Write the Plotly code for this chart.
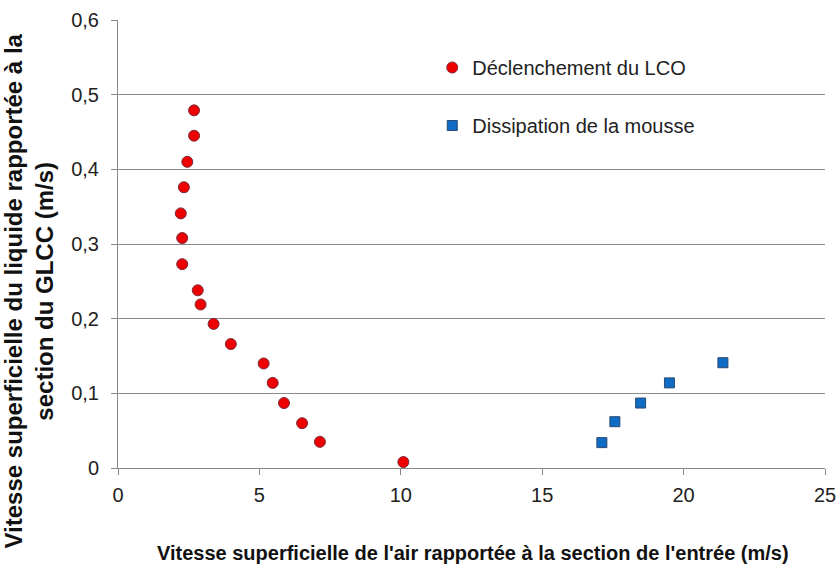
import plotly.graph_objects as go

# Déclenchement du LCO (onset of liquid carry-over)
lco_x = [2.69, 2.69, 2.45, 2.33, 2.22, 2.27, 2.27, 2.82, 2.92, 3.38, 3.99, 5.15, 5.47, 5.87, 6.51, 7.14, 10.09]
lco_y = [0.479, 0.445, 0.410, 0.376, 0.341, 0.308, 0.273, 0.238, 0.219, 0.193, 0.166, 0.140, 0.114, 0.087, 0.060, 0.035, 0.008]

# Dissipation de la mousse (foam dissipation)
foam_x = [17.11, 17.57, 18.48, 19.50, 21.39]
foam_y = [0.034, 0.062, 0.087, 0.114, 0.141]

x_ticks = [0, 5, 10, 15, 20, 25]
y_ticks = [0, 0.1, 0.2, 0.3, 0.4, 0.5, 0.6]
y_ticktext = ["0", "0,1", "0,2", "0,3", "0,4", "0,5", "0,6"]

series_names = ["Déclenchement du LCO", "Dissipation de la mousse"]
x_title = "Vitesse superficielle de l'air rapportée à la section de l'entrée (m/s)"
y_title = "Vitesse superficielle du liquide rapportée à la<br>section du GLCC (m/s)"

label_font = "Liberation Sans, Arial, sans-serif"

fig = go.Figure()
fig.add_trace(go.Scatter(
    x=lco_x, y=lco_y, mode="markers", name=series_names[0], legendgroup="a",
    marker=dict(symbol="circle", size=11, color="#ee0000",
                line=dict(color="#7a2a3a", width=1)),
))
fig.add_trace(go.Scatter(
    x=foam_x, y=foam_y, mode="markers", name=series_names[1], legendgroup="b",
    marker=dict(symbol="square", size=10, color="#0f6cc4",
                line=dict(color="#2b4a72", width=1)),
))

fig.update_layout(
    width=839, height=576,
    margin=dict(l=118, r=14, t=20, b=108, autoexpand=False),
    paper_bgcolor="white", plot_bgcolor="white",
    font=dict(family=label_font, size=17, color="#222222"),
    showlegend=True,
    legend=dict(
        x=0.4445, y=0.9375, xanchor="left", yanchor="top",
        bgcolor="rgba(0,0,0,0)", tracegroupgap=29,
        font=dict(family=label_font, size=20, color="#222222"),
        itemsizing="trace",
    ),
    xaxis=dict(
        range=[0, 25], tickvals=x_ticks, ticktext=[str(v) for v in x_ticks],
        automargin=False, ticklabeloverflow="allow",
        showgrid=False, zeroline=False,
        showline=True, linecolor="#888888", linewidth=1,
        ticks="outside", ticklen=6, tickcolor="#888888",
        ticklabelstandoff=3,
        tickfont=dict(family=label_font, size=20, color="#222222"),
    ),
    yaxis=dict(
        range=[0, 0.6], tickvals=y_ticks, ticktext=y_ticktext,
        automargin=False,
        showgrid=True, gridcolor="#8c8c8c", gridwidth=1, zeroline=False,
        showline=True, linecolor="#888888", linewidth=1,
        ticks="outside", ticklen=6, tickcolor="#888888",
        ticklabelstandoff=8,
        tickfont=dict(family=label_font, size=20, color="#222222"),
    ),
    annotations=[
        dict(text="<b>" + x_title + "</b>", xref="paper", yref="paper",
             x=(473 - 118) / 707, y=(468 - 553) / 448, xanchor="center", yanchor="middle",
             showarrow=False, font=dict(family=label_font, size=20, color="#111111")),
        dict(text="<b>" + y_title + "</b>", xref="paper", yref="paper",
             x=(28.5 - 118) / 707, y=(468 - 291) / 448, xanchor="center", yanchor="middle",
             textangle=-90, showarrow=False,
             font=dict(family=label_font, size=24, color="#111111")),
    ],
)

fig.write_html("out.html")
